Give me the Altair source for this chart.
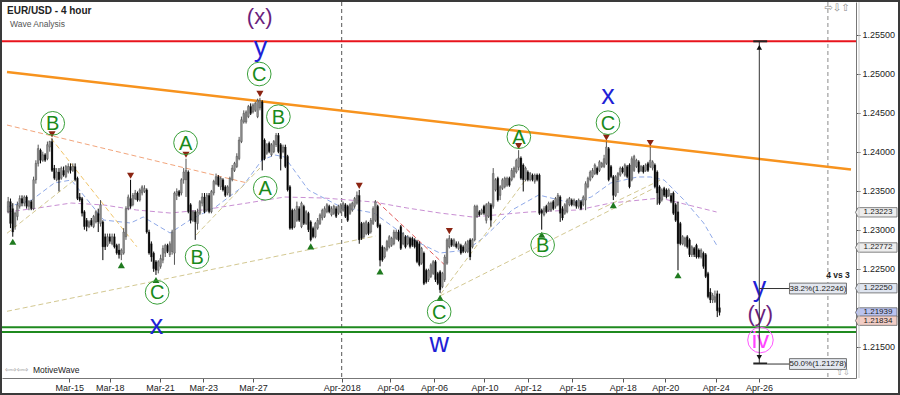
import altair as alt
import pandas as pd

# ---------------- candle data (4-hour EUR/USD) ----------------
opens = [
 1.2323,1.2336,1.2327,1.2304,1.2317,1.2330,1.2340,1.2334,1.2342,1.2330,
 1.2336,1.2327,1.2364,1.2385,1.2402,1.2389,1.2396,1.2391,1.2406,1.2413,
 1.2379,1.2364,1.2374,1.2366,1.2376,1.2368,1.2374,1.2381,1.2376,1.2381,
 1.2366,1.2342,1.2340,1.2323,1.2312,1.2304,1.2312,1.2304,1.2310,1.2321,
 1.2308,1.2310,1.2291,1.2280,1.2291,1.2282,1.2291,1.2280,1.2274,1.2268,
 1.2270,1.2291,1.2327,1.2340,1.2332,1.2340,1.2347,1.2338,1.2347,1.2349,
 1.2351,1.2297,1.2282,1.2270,1.2259,1.2248,1.2253,1.2261,1.2270,1.2280,
 1.2268,1.2272,1.2270,1.2344,1.2349,1.2347,1.2364,1.2364,1.2374,1.2332,
 1.2312,1.2323,1.2308,1.2321,1.2334,1.2342,1.2325,1.2344,1.2323,1.2347,
 1.2359,1.2368,1.2355,1.2364,1.2355,1.2347,1.2344,1.2364,1.2376,1.2381,
 1.2391,1.2413,1.2438,1.2438,1.2445,1.2458,1.2451,1.2453,1.2445,1.2456,
 1.2464,1.2415,1.2398,1.2411,1.2396,1.2400,1.2409,1.2421,1.2409,1.2400,
 1.2406,1.2394,1.2355,1.2325,1.2304,1.2312,1.2327,1.2304,1.2330,1.2308,
 1.2321,1.2310,1.2302,1.2291,1.2302,1.2308,1.2315,1.2317,1.2323,1.2330,
 1.2319,1.2321,1.2327,1.2321,1.2323,1.2325,1.2332,1.2330,1.2321,1.2325,
 1.2330,1.2334,1.2344,1.2308,1.2291,1.2295,1.2308,1.2297,1.2308,1.2312,
 1.2330,1.2306,1.2278,1.2265,1.2274,1.2278,1.2280,1.2282,1.2289,1.2297,
 1.2304,1.2282,1.2291,1.2282,1.2289,1.2289,1.2287,1.2285,1.2282,1.2257,
 1.2270,1.2248,1.2236,1.2240,1.2244,1.2259,1.2244,1.2246,1.2227,1.2236,
 1.2257,1.2278,1.2287,1.2280,1.2282,1.2276,1.2280,1.2278,1.2272,1.2272,
 1.2287,1.2278,1.2287,1.2317,1.2323,1.2321,1.2330,1.2312,1.2317,1.2332,
 1.2330,1.2351,1.2366,1.2344,1.2353,1.2355,1.2357,1.2366,1.2364,1.2368,
 1.2374,1.2380,1.2392,1.2383,1.2364,1.2374,1.2364,1.2370,1.2362,1.2370,
 1.2370,1.2325,1.2319,1.2330,1.2325,1.2325,1.2336,1.2330,1.2332,1.2342,
 1.2327,1.2321,1.2323,1.2332,1.2338,1.2332,1.2336,1.2330,1.2336,1.2332,
 1.2338,1.2355,1.2364,1.2368,1.2372,1.2379,1.2376,1.2381,1.2381,1.2385,
 1.2404,1.2381,1.2368,1.2344,1.2364,1.2370,1.2379,1.2370,1.2381,1.2383,
 1.2364,1.2376,1.2381,1.2387,1.2376,1.2381,1.2376,1.2385,1.2381,1.2379,
 1.2383,1.2374,1.2355,1.2338,1.2353,1.2351,1.2344,1.2344,1.2347,1.2332,
 1.2323,1.2308,1.2282,1.2280,1.2291,1.2287,1.2268,1.2276,1.2280,1.2274,
 1.2265,1.2270,1.2268,1.2244,1.2220,1.2210,1.2208,1.2218,1.2200]
highs = [
 1.2342,1.2340,1.2334,1.2323,1.2336,1.2344,1.2344,1.2344,1.2344,1.2338,
 1.2338,1.2368,1.2389,1.2409,1.2404,1.2400,1.2398,1.2413,1.2414,1.2417,
 1.2383,1.2379,1.2379,1.2381,1.2381,1.2383,1.2385,1.2385,1.2385,1.2385,
 1.2368,1.2347,1.2342,1.2325,1.2315,1.2312,1.2315,1.2319,1.2325,1.2327,
 1.2338,1.2312,1.2295,1.2295,1.2295,1.2295,1.2295,1.2282,1.2282,1.2276,
 1.2302,1.2330,1.2345,1.2364,1.2347,1.2351,1.2349,1.2353,1.2357,1.2357,
 1.2353,1.2300,1.2285,1.2272,1.2261,1.2261,1.2268,1.2280,1.2282,1.2282,
 1.2285,1.2300,1.2349,1.2353,1.2351,1.2366,1.2379,1.2391,1.2376,1.2334,
 1.2325,1.2325,1.2327,1.2338,1.2347,1.2347,1.2347,1.2347,1.2351,1.2364,
 1.2372,1.2370,1.2368,1.2366,1.2357,1.2357,1.2368,1.2383,1.2387,1.2398,
 1.2419,1.2445,1.2453,1.2453,1.2460,1.2462,1.2462,1.2464,1.2468,1.2469,
 1.2466,1.2417,1.2411,1.2413,1.2411,1.2415,1.2424,1.2424,1.2411,1.2409,
 1.2409,1.2396,1.2357,1.2327,1.2327,1.2336,1.2330,1.2336,1.2332,1.2325,
 1.2323,1.2312,1.2304,1.2310,1.2315,1.2321,1.2327,1.2330,1.2334,1.2332,
 1.2330,1.2332,1.2330,1.2332,1.2334,1.2336,1.2334,1.2332,1.2334,1.2336,
 1.2342,1.2349,1.2351,1.2310,1.2310,1.2312,1.2310,1.2315,1.2330,1.2338,
 1.2332,1.2308,1.2280,1.2278,1.2287,1.2293,1.2291,1.2300,1.2300,1.2300,
 1.2306,1.2297,1.2293,1.2293,1.2291,1.2291,1.2289,1.2287,1.2285,1.2278,
 1.2272,1.2250,1.2250,1.2257,1.2261,1.2261,1.2246,1.2248,1.2246,1.2268,
 1.2289,1.2293,1.2289,1.2289,1.2285,1.2285,1.2282,1.2280,1.2285,1.2287,
 1.2289,1.2289,1.2332,1.2332,1.2325,1.2327,1.2332,1.2334,1.2336,1.2334,
 1.2379,1.2366,1.2368,1.2357,1.2366,1.2368,1.2368,1.2368,1.2379,1.2381,
 1.2391,1.2402,1.2394,1.2385,1.2381,1.2376,1.2374,1.2372,1.2372,1.2372,
 1.2372,1.2327,1.2330,1.2332,1.2336,1.2336,1.2338,1.2342,1.2347,1.2344,
 1.2330,1.2334,1.2340,1.2342,1.2340,1.2340,1.2338,1.2340,1.2338,1.2344,
 1.2362,1.2368,1.2376,1.2379,1.2385,1.2381,1.2389,1.2387,1.2396,1.2413,
 1.2406,1.2383,1.2370,1.2370,1.2374,1.2381,1.2381,1.2385,1.2383,1.2385,
 1.2394,1.2396,1.2391,1.2389,1.2383,1.2383,1.2385,1.2387,1.2406,1.2389,
 1.2385,1.2376,1.2357,1.2353,1.2355,1.2353,1.2353,1.2347,1.2349,1.2334,
 1.2336,1.2310,1.2293,1.2291,1.2293,1.2289,1.2280,1.2278,1.2282,1.2276,
 1.2276,1.2272,1.2270,1.2246,1.2225,1.2219,1.2222,1.2222,1.2218]
lows = [
 1.2321,1.2302,1.2291,1.2300,1.2312,1.2327,1.2330,1.2330,1.2327,1.2325,
 1.2325,1.2325,1.2359,1.2381,1.2385,1.2387,1.2387,1.2389,1.2400,1.2374,
 1.2364,1.2362,1.2349,1.2364,1.2368,1.2366,1.2372,1.2372,1.2374,1.2362,
 1.2338,1.2336,1.2317,1.2300,1.2298,1.2302,1.2304,1.2302,1.2308,1.2297,
 1.2304,1.2261,1.2274,1.2278,1.2282,1.2280,1.2276,1.2268,1.2263,1.2261,
 1.2268,1.2287,1.2325,1.2327,1.2330,1.2338,1.2336,1.2336,1.2344,1.2347,
 1.2295,1.2268,1.2259,1.2246,1.2242,1.2244,1.2250,1.2257,1.2265,1.2270,
 1.2265,1.2268,1.2255,1.2338,1.2342,1.2344,1.2359,1.2342,1.2321,1.2308,
 1.2310,1.2287,1.2300,1.2319,1.2330,1.2321,1.2323,1.2321,1.2321,1.2344,
 1.2357,1.2355,1.2351,1.2349,1.2342,1.2344,1.2342,1.2362,1.2374,1.2379,
 1.2389,1.2411,1.2436,1.2436,1.2443,1.2447,1.2449,1.2451,1.2443,1.2453,
 1.2376,1.2389,1.2396,1.2398,1.2394,1.2398,1.2406,1.2398,1.2376,1.2398,
 1.2379,1.2349,1.2300,1.2300,1.2302,1.2310,1.2310,1.2302,1.2306,1.2306,
 1.2297,1.2285,1.2289,1.2289,1.2300,1.2306,1.2312,1.2315,1.2321,1.2321,
 1.2317,1.2319,1.2315,1.2319,1.2321,1.2323,1.2315,1.2310,1.2319,1.2323,
 1.2327,1.2332,1.2282,1.2287,1.2289,1.2293,1.2293,1.2295,1.2306,1.2310,
 1.2302,1.2253,1.2259,1.2263,1.2272,1.2276,1.2278,1.2280,1.2287,1.2285,
 1.2274,1.2280,1.2276,1.2280,1.2276,1.2278,1.2276,1.2257,1.2253,1.2255,
 1.2229,1.2231,1.2233,1.2238,1.2242,1.2233,1.2229,1.2219,1.2225,1.2233,
 1.2255,1.2276,1.2278,1.2278,1.2276,1.2274,1.2268,1.2270,1.2270,1.2270,
 1.2261,1.2276,1.2285,1.2315,1.2317,1.2319,1.2319,1.2308,1.2315,1.2304,
 1.2327,1.2349,1.2336,1.2338,1.2351,1.2353,1.2355,1.2355,1.2362,1.2366,
 1.2372,1.2376,1.2364,1.2349,1.2362,1.2362,1.2362,1.2362,1.2359,1.2362,
 1.2319,1.2300,1.2317,1.2321,1.2323,1.2323,1.2325,1.2327,1.2330,1.2310,
 1.2312,1.2319,1.2321,1.2330,1.2330,1.2330,1.2327,1.2327,1.2325,1.2330,
 1.2325,1.2353,1.2362,1.2366,1.2370,1.2370,1.2374,1.2379,1.2379,1.2383,
 1.2362,1.2366,1.2338,1.2342,1.2347,1.2368,1.2372,1.2368,1.2366,1.2353,
 1.2362,1.2374,1.2379,1.2372,1.2374,1.2372,1.2374,1.2374,1.2379,1.2376,
 1.2353,1.2332,1.2332,1.2336,1.2342,1.2340,1.2342,1.2334,1.2319,1.2310,
 1.2248,1.2280,1.2280,1.2278,1.2276,1.2265,1.2265,1.2265,1.2263,1.2263,
 1.2263,1.2250,1.2238,1.2212,1.2206,1.2206,1.2206,1.2188,1.2190]
closes = [
 1.2336,1.2308,1.2297,1.2321,1.2332,1.2340,1.2334,1.2342,1.2330,1.2336,
 1.2327,1.2364,1.2385,1.2404,1.2389,1.2396,1.2389,1.2409,1.2413,1.2376,
 1.2366,1.2374,1.2364,1.2379,1.2370,1.2381,1.2381,1.2376,1.2381,1.2364,
 1.2340,1.2338,1.2321,1.2304,1.2304,1.2310,1.2306,1.2317,1.2323,1.2310,
 1.2332,1.2278,1.2278,1.2291,1.2285,1.2291,1.2278,1.2270,1.2268,1.2274,
 1.2297,1.2327,1.2342,1.2330,1.2344,1.2347,1.2338,1.2351,1.2355,1.2353,
 1.2297,1.2270,1.2265,1.2250,1.2248,1.2259,1.2263,1.2276,1.2280,1.2272,
 1.2282,1.2297,1.2347,1.2349,1.2344,1.2364,1.2374,1.2376,1.2323,1.2312,
 1.2323,1.2310,1.2323,1.2336,1.2342,1.2323,1.2344,1.2323,1.2349,1.2362,
 1.2368,1.2357,1.2366,1.2351,1.2344,1.2355,1.2366,1.2379,1.2385,1.2394,
 1.2415,1.2441,1.2449,1.2451,1.2458,1.2449,1.2460,1.2462,1.2466,1.2466,
 1.2389,1.2391,1.2409,1.2400,1.2409,1.2413,1.2421,1.2400,1.2391,1.2406,
 1.2381,1.2351,1.2302,1.2302,1.2325,1.2330,1.2312,1.2334,1.2308,1.2323,
 1.2300,1.2287,1.2291,1.2308,1.2312,1.2319,1.2325,1.2327,1.2332,1.2323,
 1.2327,1.2330,1.2317,1.2330,1.2332,1.2334,1.2317,1.2312,1.2332,1.2334,
 1.2340,1.2344,1.2287,1.2289,1.2308,1.2310,1.2295,1.2312,1.2327,1.2336,
 1.2304,1.2261,1.2261,1.2276,1.2285,1.2291,1.2289,1.2297,1.2297,1.2287,
 1.2276,1.2295,1.2278,1.2291,1.2278,1.2280,1.2278,1.2259,1.2255,1.2276,
 1.2231,1.2233,1.2248,1.2255,1.2259,1.2236,1.2231,1.2223,1.2244,1.2265,
 1.2287,1.2289,1.2280,1.2287,1.2278,1.2282,1.2270,1.2272,1.2282,1.2285,
 1.2265,1.2287,1.2330,1.2330,1.2319,1.2325,1.2321,1.2332,1.2334,1.2312,
 1.2372,1.2364,1.2338,1.2355,1.2364,1.2366,1.2366,1.2357,1.2376,1.2379,
 1.2389,1.2392,1.2366,1.2364,1.2379,1.2364,1.2372,1.2364,1.2370,1.2364,
 1.2321,1.2321,1.2327,1.2323,1.2334,1.2334,1.2327,1.2340,1.2344,1.2321,
 1.2315,1.2332,1.2338,1.2340,1.2332,1.2338,1.2330,1.2338,1.2327,1.2342,
 1.2359,1.2366,1.2374,1.2376,1.2383,1.2372,1.2387,1.2385,1.2391,1.2406,
 1.2364,1.2368,1.2344,1.2368,1.2372,1.2379,1.2374,1.2383,1.2368,1.2355,
 1.2391,1.2394,1.2389,1.2374,1.2381,1.2374,1.2383,1.2376,1.2389,1.2387,
 1.2355,1.2347,1.2334,1.2351,1.2344,1.2342,1.2351,1.2336,1.2321,1.2312,
 1.2282,1.2282,1.2291,1.2289,1.2278,1.2268,1.2278,1.2268,1.2265,1.2265,
 1.2274,1.2253,1.2240,1.2214,1.2210,1.2216,1.2214,1.2196,1.2194]

# axis labels (bar positions of the date labels)
x_tick_labels = ["Mar-15", "Mar-18", "Mar-21", "Mar-23", "Mar-27", "Apr-2018", "Apr-04",
                 "Apr-06", "Apr-10", "Apr-12", "Apr-15", "Apr-18", "Apr-20", "Apr-24", "Apr-26"]
x_tick_bars = [27.0, 44.5, 66.2, 85.0, 106.5, 144.9, 166.0, 184.9, 206.7, 225.5,
               244.8, 266.6, 285.0, 306.8, 325.6]
y_ticks = [1.215, 1.22, 1.225, 1.23, 1.235, 1.24, 1.245, 1.25, 1.255]
y_hidden_tick = 1.22  # covered by the last-price tags in the original

# moving averages (dashed)
ma_blue_bar = [0, 10.7, 20.5, 27.8, 41.9, 53.5, 59, 70.6, 79.2, 90.3, 101.8, 110.4, 116, 120.2,
               130.5, 144.6, 158.8, 173.3, 187.4, 199, 206.7, 218.7, 230.2, 244.4, 252.9, 261.4,
               273, 278.6, 284.5, 293.1, 301.6, 307.2]
ma_blue_val = [1.23291, 1.23381, 1.23599, 1.23637, 1.23124, 1.23086, 1.23163, 1.22958, 1.23124,
               1.23291, 1.23547, 1.23894, 1.23958, 1.23932, 1.23509, 1.23291, 1.23214, 1.22906,
               1.22701, 1.22740, 1.22906, 1.23253, 1.23445, 1.23342, 1.23419, 1.23599, 1.23676,
               1.23676, 1.23637, 1.23381, 1.23086, 1.22804]
ma_purple_bar = [0, 13.3, 27.8, 41.9, 56, 70.6, 84.7, 104, 120.2, 137.4, 158.8, 173.3, 187.4,
                 201.5, 226, 247.3, 261.4, 282.8, 307.2]
ma_purple_val = [1.23227, 1.23278, 1.23342, 1.23317, 1.23253, 1.23214, 1.23253, 1.23342, 1.23419,
                 1.23406, 1.23355, 1.23278, 1.23214, 1.23163, 1.23227, 1.23253, 1.23342, 1.23406,
                 1.23227]

# dashed wave connector lines
seg_bar1 = [0, 187.4, 187.8, 19.1, 0, 81.9, 255.9, 160.3, 0]
seg_p1 = [1.21954, 1.22150, 1.22176, 1.24172, 1.22954, 1.22932, 1.23250, 1.23359, 1.24342]
seg_bar2 = [159.6, 280.3, 225.1, 56.2, 29.1, 109.5, 282.8, 190.3, 104]
seg_p2 = [1.22919, 1.23535, 1.23663, 1.22782, 1.23637, 1.23791, 1.23635, 1.22526, 1.23599]
seg_kind = ["tan", "tan", "tan", "yellow", "tan", "tan", "tan", "red", "orange"]

# levels
red_level = 1.25415
green_levels = [1.21749, 1.21689]
orange_bar = [0, 365.4]
orange_val = [1.25023, 1.23772]

# pivots (candle numbers)
pivot_high_idx = [20, 54, 78, 110, 153, 192, 222, 260, 279]
pivot_low_idx = [3, 50, 65, 132, 162, 188, 232, 263, 291]

# circled wave letters
circ_text = ["B", "A", "B", "C", "C", "B", "A", "C", "A", "B", "C"]
circ_bar = [19.8, 77.3, 82.3, 65.0, 109.2, 117.5, 111.8, 187.1, 221.6, 231.9, 260.2]
circ_price = [1.24364, 1.24115, 1.22654, 1.22197, 1.24996, 1.24449, 1.23531, 1.21949,
              1.24192, 1.22804, 1.24372]

blue_text = ["y", "x", "w", "x", "y"]
blue_bar = [109.7, 64.7, 187.1, 260.2, 325.8]
blue_price = [1.25326, 1.21765, 1.21535, 1.24714, 1.22249]

purple_text = ["(x)", "(y)"]
purple_bar = [109.4, 326.1]
purple_price = [1.25731, 1.21919]

iv_bar = [326.2]
iv_price = [1.21586]

# fib projection
arrow_bar = 325.7
arrow_top = 1.25415
arrow_bottom = 1.21285
fib_labels = ["38.2%(1.22246)", "50.0%(1.21278)"]
fib_prices = [1.22246, 1.21278]

# price tags on the right axis
tag_prices = [1.23223, 1.22772, 1.22250, 1.21939, 1.21834]
tag_fills = ["#ededed", "#ededed", "#dfe5f0", "#b9c2f0", "#f2cdc5"]
tag_nudge = [0, 0, 0, -0.6, 0.6]  # small vertical nudge (px) so stacked tags stay legible

# vertical dashed separators
vline_bars = [144.9, 355.4]
vline_colors = ["#555555", "#8a8a8a"]

# ---------------- scales / axes ----------------
xs = alt.Scale(domain=[0, 365.4], nice=False, zero=False)
ys = alt.Scale(domain=[1.21099, 1.25919], nice=False, zero=False)

label_expr = " : ".join(f"datum.value == {b} ? '{t}'" for b, t in zip(x_tick_bars, x_tick_labels)) + " : ''"
y_label_expr = f"abs(datum.value - {y_hidden_tick}) < 0.0001 ? '' : format(datum.value, '.5f')"
xaxis = alt.Axis(values=x_tick_bars, labelExpr=label_expr, title=None, grid=False, orient="bottom",
                 tickSize=4, tickColor="#555555", domainColor="#777777", labelFontSize=9,
                 labelColor="#222222", labelFont="Liberation Sans", labelPadding=1,
                 labelFlush=False, labelOverlap=False)
yaxis = alt.Axis(values=y_ticks, labelExpr=y_label_expr, orient="right", title=None, grid=False,
                 tickSize=4, tickColor="#555555", domainColor="#777777", labelFontSize=9,
                 labelColor="#222222", labelFont="Liberation Sans", labelPadding=2,
                 labelOverlap=False, labelFlush=False)


def X(f):
    return alt.X(f, type="quantitative", scale=xs, axis=xaxis)


def Y(f):
    return alt.Y(f, type="quantitative", scale=ys, axis=yaxis)


FONT = "Liberation Sans"

n = len(opens)
candles = pd.DataFrame({"bar": [k + 0.5 for k in range(n)], "open": opens, "high": highs,
                        "low": lows, "close": closes})
up = "datum.close >= datum.open"

one = pd.DataFrame({"a": [0]})

layers = []

# vertical dashed lines
vdf = pd.DataFrame({"bar": vline_bars, "c": vline_colors})
layers.append(alt.Chart(vdf).mark_rule(strokeDash=[4, 3], strokeWidth=1).encode(
    x=X("bar"), y=alt.value(0), y2=alt.value(376), color=alt.Color("c:N", scale=None)))

# moving averages
layers.append(alt.Chart(pd.DataFrame({"bar": ma_purple_bar, "v": ma_purple_val})).mark_line(
    strokeDash=[5, 3], strokeWidth=1, color="#c98fd3").encode(x=X("bar"), y=Y("v")))
layers.append(alt.Chart(pd.DataFrame({"bar": ma_blue_bar, "v": ma_blue_val})).mark_line(
    strokeDash=[5, 3], strokeWidth=1, color="#8fa9e8").encode(x=X("bar"), y=Y("v")))

# dashed connectors
rows = []
for i, (b1, p1, b2, p2, k) in enumerate(zip(seg_bar1, seg_p1, seg_bar2, seg_p2, seg_kind)):
    rows.append({"seg": i, "bar": b1, "p": p1, "kind": k})
    rows.append({"seg": i, "bar": b2, "p": p2, "kind": k})
layers.append(alt.Chart(pd.DataFrame(rows)).mark_line(strokeDash=[5, 3], strokeWidth=1).encode(
    x=X("bar"), y=Y("p"), detail="seg:N",
    color=alt.Color("kind:N", scale=alt.Scale(domain=["tan", "yellow", "red", "orange"],
                                              range=["#d3c891", "#f0c468", "#e25a5a", "#f2a57c"]),
                    legend=None)))

# horizontal levels
layers.append(alt.Chart(pd.DataFrame({"p": [red_level]})).mark_rule(color="#e8141c", strokeWidth=2).encode(
    y=Y("p"), x=alt.value(0), x2=alt.value(854)))
layers.append(alt.Chart(pd.DataFrame({"p": green_levels})).mark_rule(color="#1f8a1f", strokeWidth=2).encode(
    y=Y("p"), x=alt.value(0), x2=alt.value(854)))
layers.append(alt.Chart(pd.DataFrame({"bar": orange_bar, "v": orange_val})).mark_line(
    color="#f7931e", strokeWidth=2.5).encode(x=X("bar"), y=Y("v")))

# candles
layers.append(alt.Chart(candles).mark_rule(strokeWidth=1).encode(
    x=X("bar"), y=Y("low"), y2="high",
    color=alt.condition(up, alt.value("#555555"), alt.value("#000000"))))
layers.append(alt.Chart(candles).mark_bar(size=1.8, stroke="#333333", strokeWidth=0.3).encode(
    x=X("bar"), y=Y("open"), y2="close",
    color=alt.condition(up, alt.value("#8c8c8c"), alt.value("#000000"))))

# pivot triangles
hi = candles.iloc[[i - 1 for i in pivot_high_idx]]
lo = candles.iloc[[i - 1 for i in pivot_low_idx]]
layers.append(alt.Chart(hi).mark_point(shape="triangle-down", filled=True, size=50, opacity=1,
                                       color="#8b2412", yOffset=-4).encode(x=X("bar"), y=Y("high")))
layers.append(alt.Chart(lo).mark_point(shape="triangle-up", filled=True, size=50, opacity=1,
                                       color="#1f7a1f", yOffset=5).encode(x=X("bar"), y=Y("low")))

# circled letters
cdf = pd.DataFrame({"bar": circ_bar, "p": circ_price, "t": circ_text})
layers.append(alt.Chart(cdf).mark_point(shape="circle", size=560, filled=False, opacity=1,
                                        color="#3aa03a", strokeWidth=1).encode(x=X("bar"), y=Y("p")))
layers.append(alt.Chart(cdf).mark_text(fontSize=20, color="#1a8a1a", font=FONT, dy=1).encode(
    x=X("bar"), y=Y("p"), text="t:N"))

# blue / purple wave letters
layers.append(alt.Chart(pd.DataFrame({"bar": blue_bar, "p": blue_price, "t": blue_text})).mark_text(
    fontSize=27, color="#1f1fd6", font=FONT).encode(x=X("bar"), y=Y("p"), text="t:N"))
layers.append(alt.Chart(pd.DataFrame({"bar": purple_bar, "p": purple_price, "t": purple_text})).mark_text(
    fontSize=22, color="#6b1f7d", font=FONT).encode(x=X("bar"), y=Y("p"), text="t:N"))
ivdf = pd.DataFrame({"bar": iv_bar, "p": iv_price, "t": ["iv"]})
layers.append(alt.Chart(ivdf).mark_point(shape="circle", size=650, filled=False, opacity=1,
                                         color="#ff55ff", strokeWidth=1).encode(x=X("bar"), y=Y("p")))
layers.append(alt.Chart(ivdf).mark_text(fontSize=24, color="#ff44ff", font=FONT, dy=1).encode(
    x=X("bar"), y=Y("p"), text="t:N"))

# fib projection arrow
adf = pd.DataFrame({"bar": [arrow_bar], "top": [arrow_top], "bottom": [arrow_bottom]})
layers.append(alt.Chart(adf).mark_rule(color="#333333", strokeWidth=1).encode(
    x=X("bar"), y=Y("top"), y2="bottom"))
capdf = pd.DataFrame({"b1": [arrow_bar - 2.6] * 2, "b2": [arrow_bar + 3.4] * 2,
                      "p": [arrow_top, arrow_bottom]})
layers.append(alt.Chart(capdf).mark_rule(color="#222222", strokeWidth=2).encode(
    x=X("b1"), x2="b2", y=Y("p")))
layers.append(alt.Chart(pd.DataFrame({"bar": [arrow_bar], "p": [arrow_top]})).mark_point(
    shape="triangle-up", filled=True, size=30, color="#111111", opacity=1, yOffset=6).encode(
    x=X("bar"), y=Y("p")))
layers.append(alt.Chart(pd.DataFrame({"bar": [arrow_bar], "p": [arrow_bottom]})).mark_point(
    shape="triangle-down", filled=True, size=30, color="#111111", opacity=1, yOffset=-6).encode(
    x=X("bar"), y=Y("p")))
fdf = pd.DataFrame({"b1": [arrow_bar, arrow_bar + 3.4], "b2": [338.9, 338.9], "p": fib_prices,
                    "t": fib_labels, "bc": [351.1, 351.1]})
layers.append(alt.Chart(fdf).mark_rule(color="#333333", strokeWidth=1).encode(
    x=X("b1"), x2="b2", y=Y("p")))
box_path = "M -1 -0.19 L 1 -0.19 L 1 0.19 L -1 0.19 Z"
layers.append(alt.Chart(fdf).mark_point(shape=box_path, size=3249, filled=True, opacity=1,
                                        fill="#e3e7ef", stroke="#555555", strokeWidth=0.8).encode(
    x=X("bc"), y=Y("p")))
layers.append(alt.Chart(fdf).mark_text(fontSize=8, color="#222222", font=FONT).encode(
    x=X("bc"), y=Y("p"), text="t:N"))

# right-axis price tags
tag_path = "M -1.13 0 L -1 -0.24 L 1 -0.24 L 1 0.24 L -1 0.24 Z"
tdf = pd.DataFrame({"p": tag_prices, "f": tag_fills, "t": [f"{v:.5f}" for v in tag_prices],
                    "nudge": tag_nudge})
layers.append(alt.Chart(tdf).mark_point(shape=tag_path, size=1521, filled=True, opacity=1,
                                        stroke="#666666", strokeWidth=0.8).encode(
    x=alt.value(875.5), y=Y("p"), fill=alt.Fill("f:N", scale=None)))
for _, r in tdf.iterrows():
    layers.append(alt.Chart(pd.DataFrame([r])).mark_text(
        fontSize=8, color="#222222", font=FONT, dy=float(r["nudge"])).encode(
        x=alt.value(876), y=Y("p"), text="t:N"))

# texts in pixel space
layers.append(alt.Chart(one).mark_text(text="EUR/USD - 4 hour", fontSize=10, fontWeight="bold",
                                       color="#222222", font=FONT, align="left").encode(
    x=alt.value(5), y=alt.value(9)))
layers.append(alt.Chart(one).mark_text(text="Wave Analysis", fontSize=8.5, color="#555555",
                                       font=FONT, align="left").encode(x=alt.value(8), y=alt.value(22)))
layers.append(alt.Chart(one).mark_text(text="MotiveWave", fontSize=8.5, color="#222222",
                                       font=FONT, align="left").encode(x=alt.value(31), y=alt.value(368)))
layers.append(alt.Chart(one).mark_text(text="⇦⇨⇦⇨", fontSize=7, color="#888888",
                                       font="DejaVu Sans", align="left").encode(x=alt.value(3), y=alt.value(368)))
layers.append(alt.Chart(one).mark_text(text="⇨⇩⇧", fontSize=10, color="#8a8a8a",
                                       font="DejaVu Sans").encode(x=alt.value(835), y=alt.value(6)))
layers.append(alt.Chart(one).mark_text(text="⇧⇩", fontSize=8, color="#999999",
                                       font="DejaVu Sans").encode(x=alt.value(841), y=alt.value(371)))
layers.append(alt.Chart(one).mark_text(text="4 vs 3", fontSize=8.5, fontWeight="bold",
                                       color="#222222", font=FONT).encode(x=alt.value(836), y=alt.value(273)))

# right edge helper line and frame
layers.append(alt.Chart(one).mark_rule(color="#c8c8c8", strokeWidth=1).encode(
    x=alt.value(857), y=alt.value(0), y2=alt.value(376)))
layers.append(alt.Chart(one).mark_rect(fillOpacity=0, stroke="#3a3a3a", strokeWidth=2).encode(
    x=alt.value(-1), x2=alt.value(897), y=alt.value(-1), y2=alt.value(392)))

chart = alt.layer(*layers).properties(
    width=854, height=376,
    padding={"left": 2, "top": 2, "right": 44, "bottom": 17},
    autosize=alt.AutoSizeParams(type="none"),
    background="white",
).configure_view(stroke=None)

chart.save("out.html", embed_options={"renderer": "svg", "actions": False})
